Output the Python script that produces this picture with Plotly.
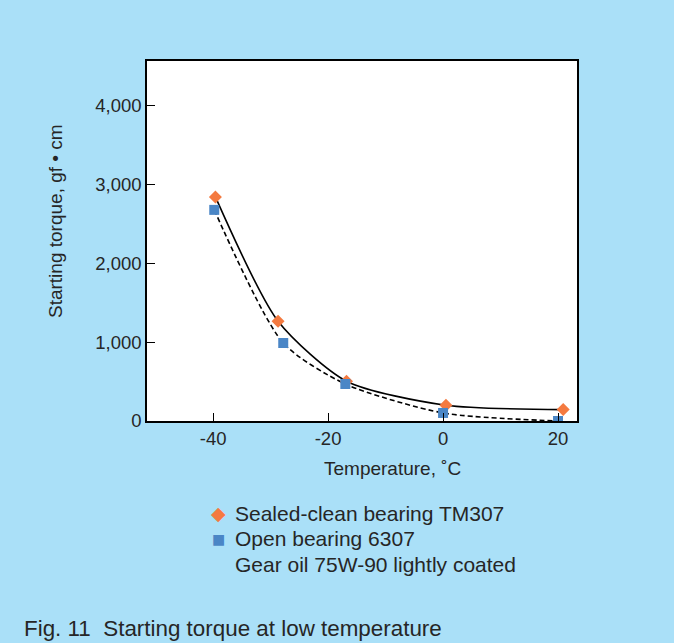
import plotly.graph_objects as go

# Data
temp_sealed = [-39.6, -28.7, -16.8, 0.5, 20.9]
torque_sealed = [2845, 1266, 505, 200, 145]
temp_open = [-39.8, -27.8, -17.0, 0.0, 20.0]
torque_open = [2680, 990, 470, 102, 0]

x_ticks = [-40, -20, 0, 20]
x_tick_labels = ["-40", "-20", "0", "20"]
y_ticks = [0, 1000, 2000, 3000, 4000]
y_tick_labels = ["0", "1,000", "2,000", "3,000", "4,000"]

series_names = ["Sealed-clean bearing TM307", "Open bearing 6307"]
note_text = "Gear oil 75W-90 lightly coated"
caption = "Fig. 11\u00a0\u00a0Starting torque at low temperature"

BG = "#aae0f8"
ORANGE = "#f47a40"
BLUE = "#4a86c6"
TXT = "#262626"
FONT = "Liberation Sans, Arial, sans-serif"

L, T, W, H = 147, 61, 430, 360


def px(x):
    return (x - L) / W


def py(y):
    return (T + H - y) / H


fig = go.Figure()

# smoothed curves
fig.add_trace(go.Scatter(x=temp_sealed, y=torque_sealed, mode="lines",
                         line=dict(color="black", width=1.6, shape="spline", smoothing=0.7),
                         showlegend=False, hoverinfo="skip"))
fig.add_trace(go.Scatter(x=temp_open, y=torque_open, mode="lines",
                         line=dict(color="black", width=1.6, dash="5px,3px", shape="spline", smoothing=0.7),
                         showlegend=False, hoverinfo="skip"))

# markers
fig.add_trace(go.Scatter(x=temp_sealed, y=torque_sealed, mode="markers",
                         marker=dict(symbol="diamond", size=10, color=ORANGE),
                         name=series_names[0], showlegend=False))
fig.add_trace(go.Scatter(x=temp_open, y=torque_open, mode="markers",
                         marker=dict(symbol="square", size=10, color=BLUE),
                         name=series_names[1], showlegend=False))

annotations = [
    dict(text="Starting torque, gf • cm", x=px(55), y=py(221), textangle=-90,
         xanchor="center", yanchor="middle", font=dict(size=19, color=TXT)),
    dict(text="Temperature, ˚C", x=px(392), y=py(468),
         xanchor="center", yanchor="middle", font=dict(size=19, color=TXT)),
    # legend (drawn as text rows)
    dict(text="◆", x=px(218.5), y=py(513), xanchor="center", yanchor="middle",
         font=dict(size=19, color=ORANGE, family="DejaVu Sans")),
    dict(text="■", x=px(218.5), y=py(538.5), xanchor="center", yanchor="middle",
         font=dict(size=14, color=BLUE, family="DejaVu Sans")),
    dict(text=series_names[0], x=px(233), y=py(513), xanchor="left", yanchor="middle",
         font=dict(size=21, color=TXT)),
    dict(text=series_names[1], x=px(233), y=py(538.5), xanchor="left", yanchor="middle",
         font=dict(size=21, color=TXT)),
    dict(text=note_text, x=px(233), y=py(564), xanchor="left", yanchor="middle",
         font=dict(size=21, color=TXT)),
    dict(text=caption, x=px(22), y=py(628), xanchor="left", yanchor="middle",
         font=dict(size=22.4, color=TXT)),
]
for a in annotations:
    a.update(xref="paper", yref="paper", showarrow=False)

fig.update_layout(
    width=674, height=643,
    margin=dict(l=L, r=674 - L - W, t=T, b=643 - T - H),
    paper_bgcolor=BG,
    plot_bgcolor="white",
    font=dict(family=FONT, size=18, color=TXT),
    showlegend=False,
    xaxis=dict(
        range=[-51.5, 23.3], tickvals=x_ticks, ticktext=x_tick_labels,
        ticks="inside", ticklen=8, tickcolor="black", tickwidth=1.2,
        showline=True, linecolor="black", linewidth=1.5, mirror=True,
        showgrid=False, zeroline=False, tickfont=dict(size=18.5, color=TXT),
    ),
    yaxis=dict(
        range=[0, 4570], tickvals=y_ticks, ticktext=y_tick_labels,
        ticks="inside", ticklen=8, tickcolor="black", tickwidth=1.2,
        showline=True, linecolor="black", linewidth=1.5, mirror=True,
        showgrid=False, zeroline=False, tickfont=dict(size=18.5, color=TXT),
    ),
    annotations=annotations,
)

fig.write_html("out.html")
